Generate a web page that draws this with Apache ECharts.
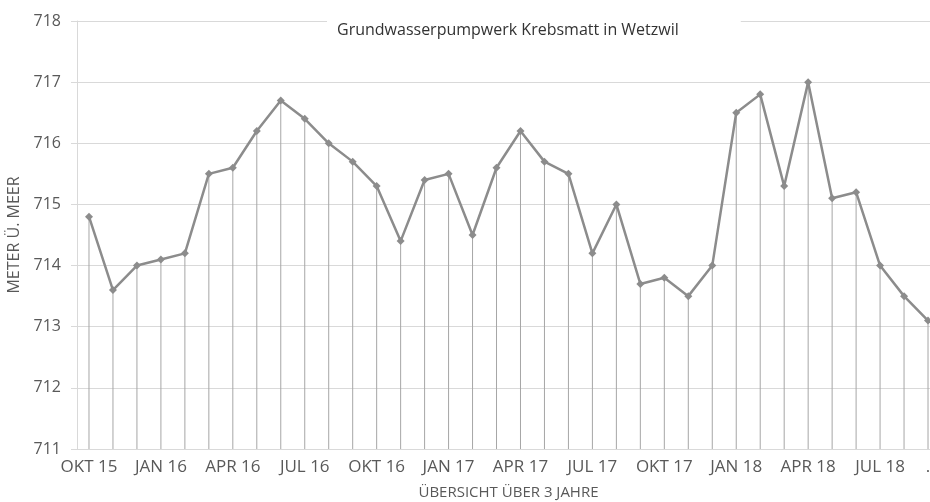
<!DOCTYPE html>
<html>
<head>
<meta charset="utf-8">
<script src="https://cdn.jsdelivr.net/npm/echarts@6/dist/echarts.min.js"></script>
<style>html,body{margin:0;padding:0;background:#fff}#c{width:930px;height:502px}</style>
</head>
<body>
<div id="c"></div>
<script>
const months = ["OKT 15","NOV 15","DEZ 15","JAN 16","FEB 16","MÄR 16","APR 16","MAI 16","JUN 16","JUL 16","AUG 16","SEP 16",
  "OKT 16","NOV 16","DEZ 16","JAN 17","FEB 17","MÄR 17","APR 17","MAI 17","JUN 17","JUL 17","AUG 17","SEP 17",
  "OKT 17","NOV 17","DEZ 17","JAN 18","FEB 18","MÄR 18","APR 18","MAI 18","JUN 18","JUL 18","AUG 18","SEP 18"];
const tickLabels = ["OKT 15","","","JAN 16","","","APR 16","","","JUL 16","","",
  "OKT 16","","","JAN 17","","","APR 17","","","JUL 17","","",
  "OKT 17","","","JAN 18","","","APR 18","","","JUL 18","","."];
const levels = [714.8,713.6,714.0,714.1,714.2,715.5,715.6,716.2,716.7,716.4,716.0,715.7,
  715.3,714.4,715.4,715.5,714.5,715.6,716.2,715.7,715.5,714.2,715.0,713.7,
  713.8,713.5,714.0,716.5,716.8,715.3,717.0,715.1,715.2,714.0,713.5,713.1];
const yTicks = [711,712,713,714,715,716,717,718];
const titleText = "Grundwasserpumpwerk Krebsmatt in Wetzwil";
const yName = "METER Ü. MEER";
const xName = "ÜBERSICHT ÜBER 3 JAHRE";

const font = "'Open Sans', 'Noto Sans', sans-serif";
const chart = echarts.init(document.getElementById('c'));
chart.setOption({
  animation: false,
  backgroundColor: '#fff',
  title: {
    text: titleText,
    left: 327, top: 13,
    padding: [9, 62, 9, 10],
    backgroundColor: '#fff',
    textStyle: {fontFamily: font, fontSize: 16, fontWeight: 'normal', color: '#333333'}
  },
  grid: {left: 77, right: -10, top: 21, bottom: 53, containLabel: false, outerBoundsMode: 'none'},
  xAxis: {
    type: 'category',
    data: months,
    boundaryGap: true,
    axisLine: {show: true, lineStyle: {color: '#d9d9d9', width: 1}},
    axisTick: {show: false},
    axisLabel: {
      interval: 0,
      formatter: (v, i) => tickLabels[i],
      fontFamily: font, fontSize: 17, color: '#595959', margin: 10
    },
    name: xName,
    nameLocation: 'middle',
    nameGap: 36,
    nameTextStyle: {fontFamily: font, fontSize: 15, color: '#595959'},
    splitLine: {show: false}
  },
  yAxis: {
    type: 'value',
    min: yTicks[0], max: yTicks[yTicks.length - 1], interval: 1,
    axisLine: {show: true, lineStyle: {color: '#d9d9d9', width: 1}},
    axisTick: {show: true, length: 6, lineStyle: {color: '#d9d9d9'}},
    axisLabel: {fontFamily: font, fontSize: 16, color: '#595959', margin: 16},
    splitLine: {show: true, lineStyle: {color: '#d9d9d9', width: 1}},
    name: yName,
    nameLocation: 'middle',
    nameGap: 51,
    nameTextStyle: {fontFamily: font, fontSize: 16, color: '#595959'}
  },
  series: [
    {
      type: 'bar',
      data: levels,
      barWidth: 1,
      itemStyle: {color: '#a6a6a6'},
      silent: true,
      z: 1
    },
    {
      type: 'line',
      data: levels,
      symbol: 'diamond',
      symbolSize: 8,
      showAllSymbol: true,
      lineStyle: {color: '#8c8c8c', width: 2.5},
      itemStyle: {color: '#8c8c8c'},
      z: 3
    }
  ]
});
</script>
</body>
</html>
